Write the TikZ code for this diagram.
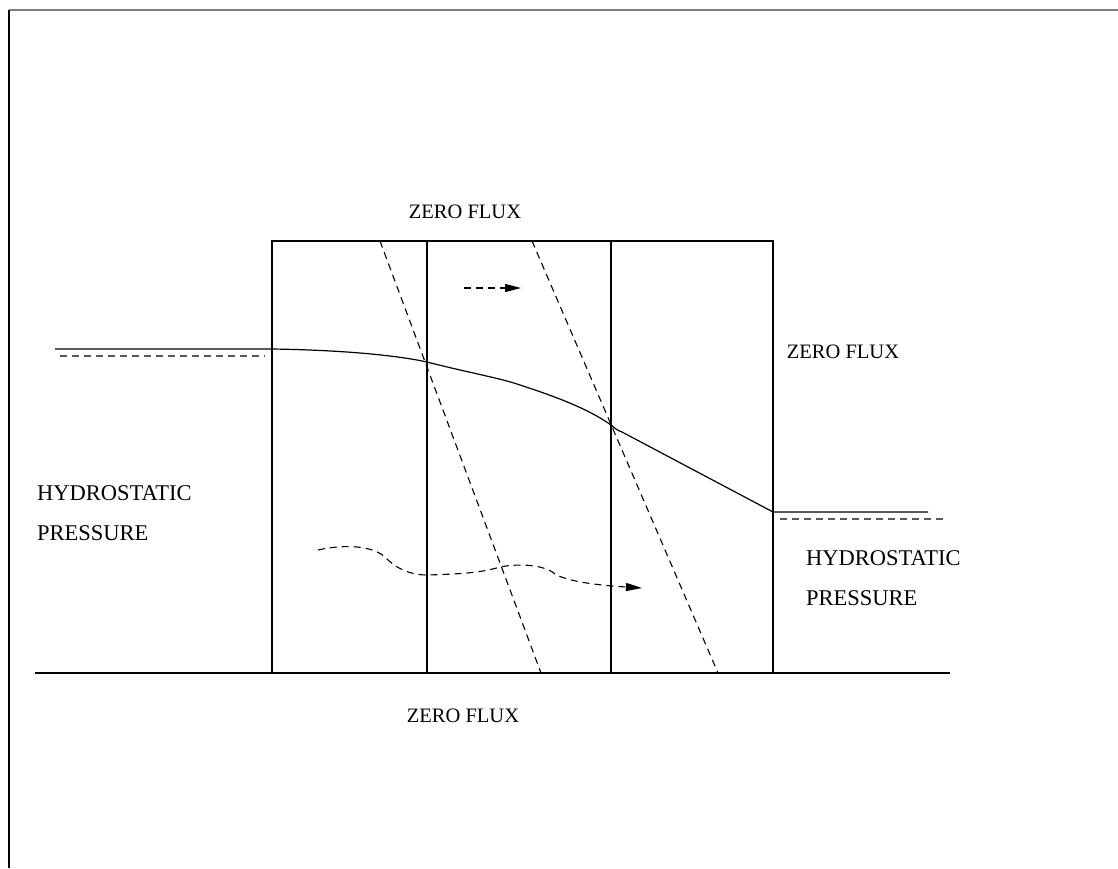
\documentclass[tikz,border=0pt]{standalone}
\usepackage{fontspec}
\setmainfont{Liberation Serif}
\usetikzlibrary{arrows.meta}
\begin{document}
\begin{tikzpicture}[x=1pt,y=-1pt,
  thin line/.style={line width=1.2pt,black},
  dash line/.style={line width=1.1pt,dash pattern=on 7pt off 5pt},
  label text/.style={font=\fontsize{20.5}{24}\selectfont,inner sep=0pt},
  big text/.style={font=\fontsize{22.5}{27}\selectfont,inner sep=0pt,anchor=west},
  flow arrow/.style={dash line,-{Triangle[length=16pt,width=8pt]}}]
\useasboundingbox (0,0) rectangle (1118,868);
% frame
\draw[gray,line width=2.4pt] (9,10) -- (1118,10);
\draw[line width=1.3pt] (9,10) -- (9,868);
% coordinates
\coordinate (tl) at (272,241);
\coordinate (tr) at (773,241);
\coordinate (bl) at (272,673);
\coordinate (br) at (773,673);
\coordinate (t1) at (427,241);
\coordinate (b1) at (427,673);
\coordinate (t2) at (611,241);
\coordinate (b2) at (611,673);
\coordinate (gl) at (35,673);
\coordinate (gr) at (950,673);
% box and columns
\draw[thin line] (bl) -- (tl) -- (tr) -- (br);
\draw[thin line] (t1) -- (b1);
\draw[thin line] (t2) -- (b2);
\draw[thin line] (gl) -- (gr);
% inclined dashed lines
\coordinate (d1a) at (380,241);
\coordinate (d1b) at (541,673);
\coordinate (d2a) at (532,241);
\coordinate (d2b) at (718,673);
\draw[dash line] (d1a) -- (d1b);
\draw[dash line] (d2a) -- (d2b);
% water table
\coordinate (w0) at (55,349);
\coordinate (w1) at (272,349);
\coordinate (w2) at (427,362);
\coordinate (w3) at (520,385);
\coordinate (w4) at (611,425);
\coordinate (w5) at (773,512);
\coordinate (w6) at (928,512);
\draw[thin line] (w0) -- (w1) .. controls (340,350) and (395,355) .. (w2)
  .. controls (470,373) and (500,378) .. (w3)
  .. controls (560,398) and (590,410) .. (w4)
  .. controls (615,428) and (616,430) .. (622,432) -- (w5) -- (w6);
% dashed levels
\coordinate (l0) at (60,356);
\coordinate (l1) at (265,356);
\coordinate (r0) at (780,519);
\coordinate (r1) at (945,519);
\draw[dash line,gray!70!black] (l0) -- (l1);
\draw[dash line,gray!70!black] (r0) -- (r1);
% arrows
\coordinate (a0) at (464,288);
\coordinate (a1) at (521,288);
\draw[flow arrow] (a0) -- (a1);
\coordinate (f0) at (318,550);
\coordinate (f1) at (642,588);
\draw[flow arrow] (f0) .. controls (340,545) and (370,544) .. (385,557)
  .. controls (395,568) and (410,575) .. (427,575)
  .. controls (460,574) and (480,573) .. (500,567)
  .. controls (520,563) and (545,565) .. (555,574)
  .. controls (570,583) and (610,586) .. (f1);
% labels
\node[label text] (zt) at (465,212) {ZERO FLUX};
\node[label text] (zr) at (843,352) {ZERO FLUX};
\node[label text] (zb) at (463,716) {ZERO FLUX};
\node[big text] (hl) at (37,493) {HYDROSTATIC};
\node[big text] (pl) at (37,533) {PRESSURE};
\node[big text] (hr) at (806,558) {HYDROSTATIC};
\node[big text] (pr) at (806,598) {PRESSURE};
\end{tikzpicture}
\end{document}
